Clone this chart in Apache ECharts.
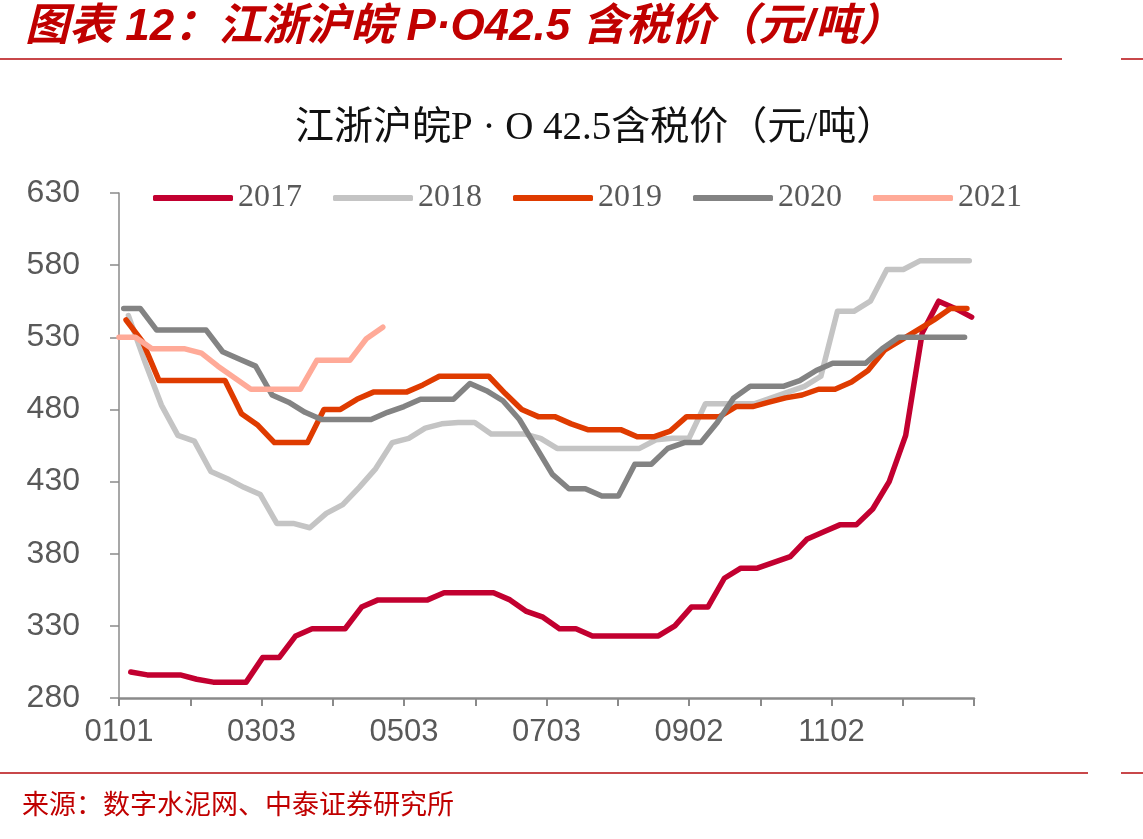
<!DOCTYPE html>
<html>
<head>
<meta charset="utf-8">
<script src="https://cdn.jsdelivr.net/npm/echarts@6/dist/echarts.min.js"></script>
<style>
html, body { margin: 0; padding: 0; background: #fff; }
#main { width: 1143px; height: 839px; }
</style>
</head>
<body>
<div id="main"></div>
<script>
// 周度报价（元/吨），每年从第一个周五开始
var years = ['2017', '2018', '2019', '2020', '2021'];
var firstDay = [5, 4, 3, 2, 0];   // 当年第一个报价日是一年中的第几天（0 = 1月1日）
var colors = ['#C20030', '#C4C4C4', '#DF3B00', '#838383', '#FFAA98'];

var p2017 = [298, 296, 296, 296, 293, 291, 291, 291, 308, 308, 323, 328, 328, 328, 343, 348, 348, 348, 348, 353,
    353, 353, 353, 348, 340, 336, 328, 328, 323, 323, 323, 323, 323, 330, 343, 343, 363, 370, 370, 374,
    378, 390, 395, 400, 400, 411, 430, 462, 533, 555, 550, 544];
var p2018 = [545, 513, 483, 462, 458, 437, 432, 426, 421, 401, 401, 398, 408, 414, 426, 439, 457, 460, 467, 470,
    471, 471, 463, 463, 463, 460, 453, 453, 453, 453, 453, 453, 459, 460, 460, 484, 484, 484, 484, 488,
    492, 496, 503, 548, 548, 555, 577, 577, 583, 583, 583, 583];
var p2019 = [542, 527, 500, 500, 500, 500, 500, 477, 469, 457, 457, 457, 480, 480, 487, 492, 492, 492, 497, 503,
    503, 503, 503, 491, 480, 475, 475, 470, 466, 466, 466, 461, 461, 465, 475, 475, 475, 482, 482, 485,
    488, 490, 494, 494, 499, 507, 521, 528, 535, 542, 550, 550];
var p2020 = [550, 550, 535, 535, 535, 535, 520, 515, 510, 490, 485, 478, 473, 473, 473, 473, 478, 482, 487, 487,
    487, 498, 493, 486, 473, 454, 435, 425, 425, 420, 420, 442, 442, 453, 457, 457, 471, 488, 496, 496,
    496, 500, 507, 512, 512, 512, 522, 530, 530, 530, 530, 530];
var p2021 = [530, 530, 522, 522, 522, 519, 510, 502, 494, 494, 494, 494, 514, 514, 514, 529, 537];
var prices = [p2017, p2018, p2019, p2020, p2021];

// x轴刻度标签（每隔一个刻度显示一次）
var xTickLabels = ['0101', '', '0303', '', '0503', '', '0703', '', '0902', '', '1102', '', ''];

var myChart = echarts.init(document.getElementById('main'));

var series = [];
for (var i = 0; i < years.length; i++) {
    var pts = [];
    for (var k = 0; k < prices[i].length; k++) {
        pts.push([firstDay[i] + 7 * k, prices[i][k]]);
    }
    series.push({
        name: years[i],
        type: 'line',
        data: pts,
        showSymbol: false,
        symbol: 'none',
        lineStyle: { width: 5.5, color: colors[i], cap: 'round', join: 'round' },
        itemStyle: { color: colors[i] }
    });
}

var option = {
    animation: false,
    title: {
        text: '江浙沪皖P · O 42.5含税价（元/吨）',
        left: 290,
        top: 104,
        textStyle: {
            fontFamily: "'Liberation Serif', 'Noto Sans CJK SC'",
            fontWeight: 'normal',
            fontSize: 39,
            color: '#111'
        }
    },
    legend: {
        data: years,
        left: 148,
        top: 177,
        icon: 'roundRect',
        itemWidth: 80,
        itemHeight: 6,
        itemGap: 31,
        textStyle: {
            fontFamily: "'Liberation Serif', serif",
            fontSize: 32,
            color: '#595959'
        }
    },
    grid: { left: 119, right: 169, top: 193, bottom: 141 },
    xAxis: {
        type: 'value',
        min: 0,
        max: 363,
        interval: 30.25,
        splitLine: { show: false },
        axisLine: { show: true, lineStyle: { color: '#8a8a8a', width: 2.5 } },
        axisTick: { show: true, length: 8, lineStyle: { color: '#8a8a8a', width: 2 } },
        axisLabel: {
            margin: 19,
            fontFamily: "'Liberation Sans', Arial",
            fontSize: 31,
            color: '#595959',
            formatter: function (v, idx) { return xTickLabels[idx] || ''; }
        }
    },
    yAxis: {
        type: 'value',
        min: 280,
        max: 630,
        interval: 50,
        splitLine: { show: false },
        axisLine: { show: true, lineStyle: { color: '#8a8a8a', width: 1.5 } },
        axisTick: { show: true, length: 9, lineStyle: { color: '#8a8a8a', width: 1.5 } },
        axisLabel: {
            margin: 39,
            fontFamily: "'Liberation Sans', Arial",
            fontSize: 32,
            color: '#595959'
        }
    },
    graphic: [
        {
            type: 'text', left: 25, top: 6,
            style: {
                text: '图表 12：江浙沪皖 P·O42.5 含税价（元/吨）',
                font: 'italic bold 44px "Liberation Sans", "Noto Sans CJK SC"',
                fill: '#C00000'
            }
        },
        { type: 'rect', shape: { x: 0, y: 58, width: 1062, height: 2 }, style: { fill: '#C8474A' } },
        { type: 'rect', shape: { x: 1121, y: 58, width: 22, height: 2 }, style: { fill: '#C8474A' } },
        { type: 'rect', shape: { x: 0, y: 772, width: 1088, height: 2 }, style: { fill: '#C8474A' } },
        { type: 'rect', shape: { x: 1121, y: 772, width: 22, height: 2 }, style: { fill: '#C8474A' } },
        {
            type: 'text', left: 22, top: 790,
            style: {
                text: '来源：数字水泥网、中泰证券研究所',
                font: '27px "Noto Sans CJK SC"',
                fill: '#C00000'
            }
        }
    ],
    series: series
};

myChart.setOption(option);
</script>
</body>
</html>
